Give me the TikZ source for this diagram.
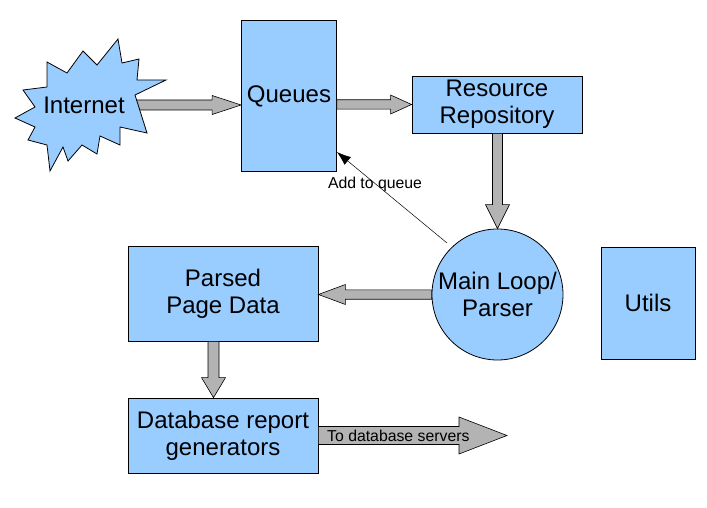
\documentclass[tikz,border=0pt]{standalone}
\usepackage{fontspec}
\setmainfont{Liberation Sans}
\usetikzlibrary{calc,arrows.meta}
\definecolor{boxblue}{HTML}{99CCFF}
\definecolor{arrgray}{HTML}{B3B3B3}
\tikzset{
  blk/.style={draw=black, fill=boxblue, line width=0.8pt, inner sep=0pt, align=center,
    font=\fontsize{24}{27}\selectfont},
  lbl/.style={font=\fontsize{24}{27}\selectfont, align=center, inner sep=0pt},
  small/.style={font=\fontsize{15.8}{18}\selectfont, inner sep=0pt},
  thick arrow/.style={draw=black, fill=arrgray, line width=0.6pt, line join=miter},
}
% #1 start, #2 end, #3 half shaft, #4 half head, #5 head length
\newcommand\blockarrow[5]{%
  \path[thick arrow]
    ($(#1)!#3!90:(#2)$) --
    ($($(#2)!#5!(#1)$)!#3!-90:(#1)$) --
    ($($(#2)!#5!(#1)$)!#4!-90:(#1)$) --
    (#2) --
    ($($(#2)!#5!(#1)$)!#4!90:(#1)$) --
    ($($(#2)!#5!(#1)$)!#3!90:(#1)$) --
    ($(#1)!#3!-90:(#2)$) -- cycle;}
\begin{document}
\begin{tikzpicture}[x=1pt,y=-1pt]
\useasboundingbox (0,0) rectangle (707,508);

% boxes
\node[blk, minimum width=95pt, minimum height=151pt] (queues) at (289,96) {Queues};
\node[blk, minimum width=170pt, minimum height=57pt] (repo) at (497,104.5) {Resource\\Repository};
\node[blk, circle, minimum size=131pt] (main) at (497.5,294.5) {Main Loop/\\Parser};
\node[blk, minimum width=190pt, minimum height=95pt] (parsed) at (223,293.5) {Parsed\\Page Data};
\node[blk, minimum width=94pt, minimum height=112pt] (utils) at (648,303) {Utils};
\node[blk, minimum width=190pt, minimum height=75pt] (db) at (223,435.5) {Database report\\generators};

% coordinates for block arrows
\coordinate (inetS) at (136,105);
\coordinate (inetE) at (queues.west |- inetS);
\coordinate (qS) at (queues.east |- repo.west);
\coordinate (rS) at (repo.south -| main.north);
\coordinate (mS) at (main.west);
\coordinate (mE) at (parsed.east |- main.west);
\coordinate (pS) at ($(parsed.south)+(-9.5,0)$);
\coordinate (pE) at (pS |- db.north);
\coordinate (dS) at (db.east);
\coordinate (dE) at (507,435.5);

\blockarrow{inetS}{inetE}{5pt}{9.5pt}{29pt}
\blockarrow{qS}{repo.west}{4.7pt}{9.5pt}{21pt}
\blockarrow{rS}{main.north}{5pt}{12pt}{24pt}
\blockarrow{mS}{mE}{4.7pt}{10pt}{27pt}
\blockarrow{pS}{pE}{5.5pt}{12pt}{20pt}
\blockarrow{dS}{dE}{9pt}{18.5pt}{48pt}
\node[small, anchor=west] (dblbl) at (327,435.5) {To database servers};

% Internet starburst
\path[draw=black, fill=boxblue, line width=0.8pt, line join=miter]
  (118,39) -- (122,63) -- (139,59) -- (137,80) -- (166,80) -- (135,95) --
  (147,133) -- (120,127) -- (120,145) -- (100,136) -- (97,154) -- (82,145) --
  (68,161) -- (63,147) -- (50,171) -- (47,145) -- (28,140) -- (35,127) --
  (15,118) -- (35,107) -- (23,90) -- (47,87) -- (47,62) -- (67,73) --
  (83,51) -- (97,65) -- cycle;
\node[lbl] (inet) at (84,105) {Internet};

% thin arrow
\coordinate (addS) at (447,243);
\draw[line width=0.5pt, -{Latex[length=14pt,width=10pt]}] (addS) -- (queues.south east |- 0,152) coordinate (addE);
\node[small] (addlbl) at (375,184) {Add to queue};
\end{tikzpicture}
\end{document}
